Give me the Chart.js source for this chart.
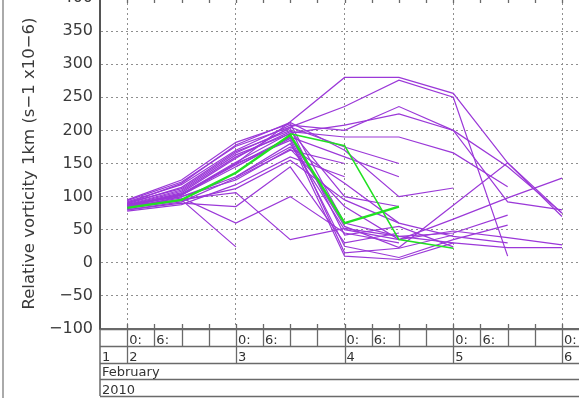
<!DOCTYPE html>
<html>
<head>
<meta charset="utf-8">
<script src="https://cdn.jsdelivr.net/npm/chart.js@4.4.0/dist/chart.umd.min.js"></script>
<style>
  html, body { margin: 0; padding: 0; background: #fff; }
  #wrap { position: relative; width: 579px; height: 398px; overflow: hidden; }
  #main-chart { position: absolute; left: 0; top: -22px; }
</style>
</head>
<body>
<div id="wrap"><canvas id="main-chart" width="579" height="420"></canvas></div>
<script>
// forecast times, hours after 2 Feb 2010 00:00 (one value every 12 h)
const hours = [0, 12, 24, 36, 48, 60, 72, 84, 96];

// x-axis labels
const dayTicks = [0, 24, 48, 72, 96];
const dayLabels = ["1", "2", "3", "4", "5", "6"];
const hourLabels = ["0:", "6:"];
const monthLabel = "February";
const yearLabel = "2010";

// y-axis
const yTitle = "Relative vorticity 1km (s\u22121 x10\u22126)";

// ensemble members (purple), null where a run has no value
const members = [
    [88, 102, 150, 213, 280, 280, 256, 151, 70],
    [86, 106, 158, 205, 236, 276, 250, 10, null],
    [92, 118, 170, 208, 200, 236, 200, 145, 75],
    [84, 104, 152, 196, 208, 225, 200, 92, 80],
    [90, 120, 178, 212, 170, 100, 113, null, null],
    [87, 108, 160, 198, 190, 190, 166, 115, null],
    [84, 98, 60, 100, 45, 30, null, null, null],
    [86, 95, 24, null, null, null, null, null, null],
    [82, 96, 106, 35, 52, 40, 30, null, null],
    [80, 90, 85, 145, 30, 45, null, null, null],
    [88, 110, 163, 195, 15, 22, 42, null, null],
    [85, 102, 145, 188, 25, 8, 35, 57, null],
    [91, 112, 166, 203, 42, 55, 24, null, null],
    [86, 104, 150, 185, 10, 5, 30, 23, 23],
    [88, 100, 130, 180, 50, 35, 66, 98, 128],
    [85, 103, 148, 190, 55, 23, 87, 151, 75],
    [83, 100, 125, 172, 85, 35, 48, 38, 27],
    [95, 125, 182, 210, 60, 40, 45, 72, null],
    [null, null, 130, 175, 120, 60, 40, 30, null],
    [null, null, 145, 190, 160, 130, null, null, null],
    [80, 92, 128, 170, 150, null, null, null, null],
    [94, 122, 176, 205, 175, 150, null, null, null],
    [89, 114, 168, 200, 100, 85, null, null, null],
    [78, 88, 118, 160, 130, null, null, null, null],
    [82, 94, 112, 155, 95, 60, null, null, null],
];

// analysis tracks (green)
const greenA = [83, 95, 136, 193, 60, 85, null, null, null];
const greenB = [null, null, null, 195, 177, 35, 22, null, null];

const xMin = -6;
const xMax = 99.75;

function toPoints(values) {
    const pts = [];
    values.forEach((v, i) => {
        if (v !== null) pts.push({ x: hours[i], y: v });
    });
    return pts;
}

const datasets = [];
members.forEach((m, i) => {
    datasets.push({
        label: "member " + (i + 1),
        data: toPoints(m),
        borderColor: "#9b38d8",
        borderWidth: 1.2,
        pointRadius: 0,
        tension: 0,
        order: 1,
    });
});
[greenA, greenB].forEach((g, i) => {
    datasets.push({
        label: "analysis " + (i + 1),
        data: toPoints(g),
        borderColor: "#22e022",
        borderWidth: i === 0 ? 2.4 : 1.6,
        pointRadius: 0,
        tension: 0,
        order: 0,
    });
});

// draws the IDL style time boxes under the plot
const timeAxisBox = {
    id: "timeAxisBox",
    afterDraw(chart) {
        const { ctx, chartArea } = chart;
        const xs = chart.scales.x;
        const top = chartArea.bottom;
        const rows = [top, top + 17, top + 34, top + 50, top + 67];
        const left = chartArea.left;
        const right = chartArea.right;

        function line(x1, y1, x2, y2) {
            ctx.beginPath();
            ctx.moveTo(x1, y1);
            ctx.lineTo(x2, y2);
            ctx.stroke();
        }

        ctx.save();
        ctx.strokeStyle = "#6a6a6a";
        ctx.lineWidth = 1.5;
        rows.forEach((y) => line(left, y + 0.5, right, y + 0.5));
        line(left, top, left, rows[4]);

        ctx.lineWidth = 1.3;
        for (let h = 0; h <= xMax; h += 6) {
            const px = Math.round(xs.getPixelForValue(h)) + 0.5;
            const isDay = h % 24 === 0;
            line(px, top - 5, px, isDay ? rows[2] : rows[1]);
            line(px, chartArea.top, px, chartArea.top + 5);
        }

        // left frame line of the figure
        ctx.strokeStyle = "#aaa";
        ctx.lineWidth = 2;
        line(3, 0, 3, chart.height);

        ctx.fillStyle = "#333";
        ctx.font = "13px 'DejaVu Sans'";
        ctx.textAlign = "left";
        ctx.textBaseline = "alphabetic";
        for (let d = 0; d <= xMax; d += 24) {
            const px = xs.getPixelForValue(d);
            ctx.fillText(hourLabels[0], px + 2, rows[1] - 2);
            const px6 = xs.getPixelForValue(d + 6);
            if (px6 < right - 10) ctx.fillText(hourLabels[1], px6 + 2, rows[1] - 2);
        }
        ctx.fillText(dayLabels[0], left + 2, rows[2] - 2);
        dayTicks.forEach((d, i) => {
            ctx.fillText(dayLabels[i + 1], xs.getPixelForValue(d) + 2, rows[2] - 2);
        });
        ctx.fillText(monthLabel, left + 2, rows[3] - 3);
        ctx.fillText(yearLabel, left + 2, rows[4] - 2);
        ctx.restore();
    },
};

const canvas = document.getElementById("main-chart");
new Chart(canvas, {
    type: "line",
    data: { datasets: datasets },
    options: {
        responsive: false,
        animation: false,
        layout: { padding: { left: 0, right: 0, top: 20, bottom: 69 } },
        plugins: {
            legend: { display: false },
            tooltip: { enabled: false },
        },
        scales: {
            x: {
                type: "linear",
                min: xMin,
                max: xMax,
                afterBuildTicks: (scale) => {
                    scale.ticks = dayTicks.map((v) => ({ value: v }));
                },
                ticks: { display: false },
                grid: { color: "#8f8f8f", lineWidth: 1, drawTicks: false },
                border: { display: true, color: "#6a6a6a", width: 1.5, dash: [2, 3] },
            },
            y: {
                min: -100,
                max: 400,
                afterFit: (scale) => {
                    scale.width = 100;
                },
                ticks: {
                    stepSize: 50,
                    padding: 7,
                    color: "#3a3a3a",
                    font: { family: "DejaVu Sans", size: 16 },
                    callback: (v) => String(v).replace("-", "\u2212"),
                },
                grid: { color: "#8f8f8f", lineWidth: 1, drawTicks: false },
                border: { display: true, color: "#555", width: 2, dash: [2, 3] },
                title: {
                    display: true,
                    text: yTitle,
                    color: "#3a3a3a",
                    font: { family: "DejaVu Sans", size: 16.5 },
                    padding: { top: 20, bottom: 0 },
                },
            },
        },
    },
    plugins: [timeAxisBox],
});
</script>
</body>
</html>
